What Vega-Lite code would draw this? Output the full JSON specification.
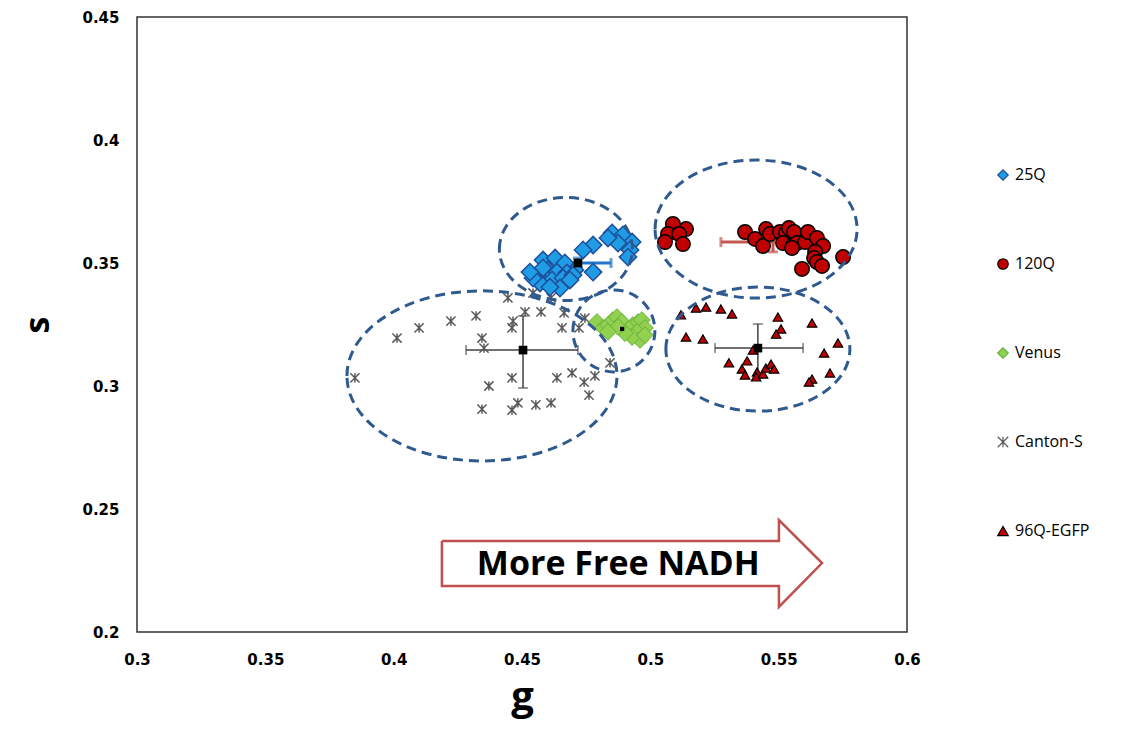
{
  "$schema": "https://vega.github.io/schema/vega-lite/v6.json",
  "width": 770,
  "height": 615,
  "autosize": {"type": "none"},
  "padding": {"left": 137, "top": 17, "right": 224, "bottom": 100},
  "background": "white",
  "view": {"stroke": "#333333", "strokeWidth": 1.5},
  "config": {
    "font": "DejaVu Sans",
    "axis": {"grid": false, "ticks": false, "domain": false, "labelColor": "#000000", "titleColor": "#000000", "labelFont": "DejaVu Sans", "labelFontWeight": "bold", "labelFontSize": 15, "titleFont": "Open Sans", "titleFontWeight": "bold"},
    "axisX": {"labelPadding": 20, "titleFontSize": 40, "titlePadding": 10, "labelFlush": false},
    "axisY": {"labelPadding": 18, "titleFontSize": 34, "titlePadding": 26, "labelFlush": false},
    "legend": {"orient": "none", "legendX": 858, "legendY": 150, "padding": 0, "rowPadding": 73, "symbolSize": 110, "symbolStrokeWidth": 1.2, "labelFont": "Open Sans", "labelFontSize": 16, "labelColor": "#000000", "labelOffset": 4}
  },
  "datasets": {
    "points": [
      {"series": "25Q", "g": 0.4851, "s": 0.3622},
      {"series": "25Q", "g": 0.4893, "s": 0.3614},
      {"series": "25Q", "g": 0.4929, "s": 0.3585},
      {"series": "25Q", "g": 0.4874, "s": 0.3581},
      {"series": "25Q", "g": 0.4921, "s": 0.3553},
      {"series": "25Q", "g": 0.4913, "s": 0.3524},
      {"series": "25Q", "g": 0.4835, "s": 0.3602},
      {"series": "25Q", "g": 0.4777, "s": 0.3573},
      {"series": "25Q", "g": 0.4738, "s": 0.3553},
      {"series": "25Q", "g": 0.4777, "s": 0.3463},
      {"series": "25Q", "g": 0.4706, "s": 0.3472},
      {"series": "25Q", "g": 0.4582, "s": 0.3512},
      {"series": "25Q", "g": 0.4629, "s": 0.352},
      {"series": "25Q", "g": 0.4667, "s": 0.35},
      {"series": "25Q", "g": 0.4601, "s": 0.3472},
      {"series": "25Q", "g": 0.4558, "s": 0.3443},
      {"series": "25Q", "g": 0.4582, "s": 0.348},
      {"series": "25Q", "g": 0.4636, "s": 0.3463},
      {"series": "25Q", "g": 0.4675, "s": 0.3459},
      {"series": "25Q", "g": 0.4617, "s": 0.3431},
      {"series": "25Q", "g": 0.466, "s": 0.3439},
      {"series": "25Q", "g": 0.4699, "s": 0.3451},
      {"series": "25Q", "g": 0.4648, "s": 0.3398},
      {"series": "25Q", "g": 0.4687, "s": 0.3431},
      {"series": "25Q", "g": 0.457, "s": 0.3419},
      {"series": "25Q", "g": 0.4609, "s": 0.3402},
      {"series": "25Q", "g": 0.4543, "s": 0.3439},
      {"series": "25Q", "g": 0.4531, "s": 0.3463},
      {"series": "120Q", "g": 0.5088, "s": 0.3659},
      {"series": "120Q", "g": 0.5139, "s": 0.3638},
      {"series": "120Q", "g": 0.5069, "s": 0.3618},
      {"series": "120Q", "g": 0.5112, "s": 0.3618},
      {"series": "120Q", "g": 0.5057, "s": 0.3585},
      {"series": "120Q", "g": 0.5127, "s": 0.3577},
      {"series": "120Q", "g": 0.5369, "s": 0.3626},
      {"series": "120Q", "g": 0.5408, "s": 0.3598},
      {"series": "120Q", "g": 0.5439, "s": 0.3569},
      {"series": "120Q", "g": 0.5451, "s": 0.3638},
      {"series": "120Q", "g": 0.5466, "s": 0.3618},
      {"series": "120Q", "g": 0.5505, "s": 0.3626},
      {"series": "120Q", "g": 0.5529, "s": 0.3622},
      {"series": "120Q", "g": 0.554, "s": 0.3642},
      {"series": "120Q", "g": 0.556, "s": 0.3626},
      {"series": "120Q", "g": 0.5517, "s": 0.3581},
      {"series": "120Q", "g": 0.5556, "s": 0.3573},
      {"series": "120Q", "g": 0.5571, "s": 0.3581},
      {"series": "120Q", "g": 0.5603, "s": 0.3585},
      {"series": "120Q", "g": 0.5614, "s": 0.3626},
      {"series": "120Q", "g": 0.5649, "s": 0.3602},
      {"series": "120Q", "g": 0.5673, "s": 0.3569},
      {"series": "120Q", "g": 0.5642, "s": 0.3545},
      {"series": "120Q", "g": 0.5638, "s": 0.352},
      {"series": "120Q", "g": 0.5649, "s": 0.3504},
      {"series": "120Q", "g": 0.5669, "s": 0.3488},
      {"series": "120Q", "g": 0.5591, "s": 0.3476},
      {"series": "120Q", "g": 0.5751, "s": 0.3524},
      {"series": "120Q", "g": 0.5552, "s": 0.3561},
      {"series": "Venus", "g": 0.4792, "s": 0.326},
      {"series": "Venus", "g": 0.4816, "s": 0.3236},
      {"series": "Venus", "g": 0.4835, "s": 0.3248},
      {"series": "Venus", "g": 0.4854, "s": 0.3268},
      {"series": "Venus", "g": 0.487, "s": 0.328},
      {"series": "Venus", "g": 0.489, "s": 0.326},
      {"series": "Venus", "g": 0.4913, "s": 0.3228},
      {"series": "Venus", "g": 0.4932, "s": 0.3248},
      {"series": "Venus", "g": 0.4952, "s": 0.326},
      {"series": "Venus", "g": 0.4967, "s": 0.3268},
      {"series": "Venus", "g": 0.4979, "s": 0.3236},
      {"series": "Venus", "g": 0.4948, "s": 0.322},
      {"series": "Venus", "g": 0.496, "s": 0.3187},
      {"series": "Venus", "g": 0.4929, "s": 0.3199},
      {"series": "Venus", "g": 0.4901, "s": 0.3215},
      {"series": "Venus", "g": 0.4874, "s": 0.324},
      {"series": "Venus", "g": 0.4835, "s": 0.322},
      {"series": "Venus", "g": 0.4979, "s": 0.3207},
      {"series": "Canton-S", "g": 0.3849, "s": 0.3033},
      {"series": "Canton-S", "g": 0.4013, "s": 0.3195},
      {"series": "Canton-S", "g": 0.4099, "s": 0.3236},
      {"series": "Canton-S", "g": 0.4223, "s": 0.3264},
      {"series": "Canton-S", "g": 0.4321, "s": 0.3285},
      {"series": "Canton-S", "g": 0.4344, "s": 0.3195},
      {"series": "Canton-S", "g": 0.4352, "s": 0.3154},
      {"series": "Canton-S", "g": 0.4465, "s": 0.3264},
      {"series": "Canton-S", "g": 0.4461, "s": 0.3236},
      {"series": "Canton-S", "g": 0.4445, "s": 0.3358},
      {"series": "Canton-S", "g": 0.4543, "s": 0.3378},
      {"series": "Canton-S", "g": 0.4613, "s": 0.3358},
      {"series": "Canton-S", "g": 0.4512, "s": 0.3301},
      {"series": "Canton-S", "g": 0.4574, "s": 0.3301},
      {"series": "Canton-S", "g": 0.4656, "s": 0.3236},
      {"series": "Canton-S", "g": 0.4664, "s": 0.3297},
      {"series": "Canton-S", "g": 0.4722, "s": 0.3236},
      {"series": "Canton-S", "g": 0.4745, "s": 0.3276},
      {"series": "Canton-S", "g": 0.4843, "s": 0.3094},
      {"series": "Canton-S", "g": 0.4784, "s": 0.3041},
      {"series": "Canton-S", "g": 0.4742, "s": 0.3016},
      {"series": "Canton-S", "g": 0.4695, "s": 0.3053},
      {"series": "Canton-S", "g": 0.4636, "s": 0.3033},
      {"series": "Canton-S", "g": 0.4761, "s": 0.2963},
      {"series": "Canton-S", "g": 0.4461, "s": 0.3033},
      {"series": "Canton-S", "g": 0.4371, "s": 0.3},
      {"series": "Canton-S", "g": 0.4613, "s": 0.2931},
      {"series": "Canton-S", "g": 0.4554, "s": 0.2923},
      {"series": "Canton-S", "g": 0.4484, "s": 0.2931},
      {"series": "Canton-S", "g": 0.4461, "s": 0.2902},
      {"series": "Canton-S", "g": 0.4344, "s": 0.2906},
      {"series": "96Q-EGFP", "g": 0.5119, "s": 0.3289},
      {"series": "96Q-EGFP", "g": 0.5178, "s": 0.3317},
      {"series": "96Q-EGFP", "g": 0.5217, "s": 0.3321},
      {"series": "96Q-EGFP", "g": 0.5275, "s": 0.3313},
      {"series": "96Q-EGFP", "g": 0.5318, "s": 0.3293},
      {"series": "96Q-EGFP", "g": 0.5139, "s": 0.3199},
      {"series": "96Q-EGFP", "g": 0.5205, "s": 0.3191},
      {"series": "96Q-EGFP", "g": 0.5497, "s": 0.328},
      {"series": "96Q-EGFP", "g": 0.5509, "s": 0.3232},
      {"series": "96Q-EGFP", "g": 0.549, "s": 0.3211},
      {"series": "96Q-EGFP", "g": 0.563, "s": 0.3256},
      {"series": "96Q-EGFP", "g": 0.5731, "s": 0.3175},
      {"series": "96Q-EGFP", "g": 0.5677, "s": 0.3134},
      {"series": "96Q-EGFP", "g": 0.54, "s": 0.3146},
      {"series": "96Q-EGFP", "g": 0.5377, "s": 0.3102},
      {"series": "96Q-EGFP", "g": 0.5306, "s": 0.3094},
      {"series": "96Q-EGFP", "g": 0.5357, "s": 0.3069},
      {"series": "96Q-EGFP", "g": 0.5369, "s": 0.3045},
      {"series": "96Q-EGFP", "g": 0.5416, "s": 0.3057},
      {"series": "96Q-EGFP", "g": 0.5412, "s": 0.3037},
      {"series": "96Q-EGFP", "g": 0.5439, "s": 0.3049},
      {"series": "96Q-EGFP", "g": 0.545, "s": 0.3073},
      {"series": "96Q-EGFP", "g": 0.547, "s": 0.3089},
      {"series": "96Q-EGFP", "g": 0.5482, "s": 0.3069},
      {"series": "96Q-EGFP", "g": 0.57, "s": 0.3053},
      {"series": "96Q-EGFP", "g": 0.563, "s": 0.3028},
      {"series": "96Q-EGFP", "g": 0.5618, "s": 0.3016}
    ],
    "errors": [
      {"series": "25Q", "g": 0.4718, "s": 0.35, "gLo": 0.459, "gHi": 0.4847, "sLo": 0.348, "sHi": 0.352},
      {"series": "120Q", "g": 0.5478, "s": 0.3585, "gLo": 0.5275, "gHi": 0.568, "sLo": 0.3545, "sHi": 0.3615},
      {"series": "Canton-S", "g": 0.4504, "s": 0.3146, "gLo": 0.4282, "gHi": 0.4718, "sLo": 0.2992, "sHi": 0.3285},
      {"series": "96Q-EGFP", "g": 0.5419, "s": 0.3154, "gLo": 0.5252, "gHi": 0.5595, "sLo": 0.3032, "sHi": 0.3252}
    ],
    "means": [
      {"series": "25Q", "g": 0.4718, "s": 0.35},
      {"series": "Venus", "g": 0.489, "s": 0.3232},
      {"series": "Canton-S", "g": 0.4504, "s": 0.3146},
      {"series": "96Q-EGFP", "g": 0.5419, "s": 0.3154}
    ],
    "ellipses": [
      {"name": "25Q", "g": 0.4671, "s": 0.3557},
      {"name": "120Q", "g": 0.5412, "s": 0.3638},
      {"name": "Venus", "g": 0.4858, "s": 0.3224},
      {"name": "Canton-S", "g": 0.4344, "s": 0.3041},
      {"name": "96Q-EGFP", "g": 0.5419, "s": 0.315}
    ],
    "arrow": [
      {"i": 1, "g": 0.4188, "s": 0.237},
      {"i": 2, "g": 0.5501, "s": 0.237},
      {"i": 3, "g": 0.5501, "s": 0.2455},
      {"i": 4, "g": 0.5669, "s": 0.228},
      {"i": 5, "g": 0.5501, "s": 0.2102},
      {"i": 6, "g": 0.5501, "s": 0.2187},
      {"i": 7, "g": 0.4188, "s": 0.2187},
      {"i": 8, "g": 0.4188, "s": 0.237}
    ],
    "notes": [
      {"label": "More Free NADH", "g": 0.4875, "s": 0.2272}
    ]
  },
  "layer": [
    {
      "data": {"name": "errors"},
      "transform": [{"filter": {"field": "series", "oneOf": ["25Q", "120Q"]}}],
      "mark": {"type": "errorbar", "ticks": {"size": 10, "thickness": 3}, "rule": {"strokeWidth": 3}},
      "encoding": {
        "x": {"field": "gLo", "type": "quantitative", "title": "g", "scale": {"domain": [0.3, 0.6], "nice": false, "zero": false}, "axis": {"values": [0.3, 0.35, 0.4, 0.45, 0.5, 0.55, 0.6], "format": "~g", "title": "g"}},
        "x2": {"field": "gHi"},
        "y": {"field": "s", "type": "quantitative", "title": "s", "scale": {"domain": [0.2, 0.45], "nice": false, "zero": false}, "axis": {"values": [0.2, 0.25, 0.3, 0.35, 0.4, 0.45], "format": "~g", "title": "s"}},
        "color": {"field": "series", "type": "nominal", "legend": null, "scale": {"domain": ["25Q", "120Q", "Canton-S", "96Q-EGFP"], "range": ["#2077c9", "#c45850", "#404040", "#404040"]}}
      }
    },
    {
      "data": {"name": "errors"},
      "transform": [{"filter": {"field": "series", "oneOf": ["25Q", "120Q"]}}],
      "mark": {"type": "errorbar", "ticks": {"size": 10, "thickness": 3}, "rule": {"strokeWidth": 3}},
      "encoding": {
        "y": {"field": "sLo", "type": "quantitative", "title": "s"},
        "y2": {"field": "sHi"},
        "x": {"field": "g", "type": "quantitative", "title": "g"},
        "color": {"field": "series", "type": "nominal", "legend": null}
      }
    },
    {
      "data": {"name": "errors"},
      "transform": [{"filter": {"field": "series", "oneOf": ["Canton-S", "96Q-EGFP"]}}],
      "mark": {"type": "errorbar", "ticks": {"size": 10, "thickness": 1.5}, "rule": {"strokeWidth": 1.5}},
      "encoding": {
        "x": {"field": "gLo", "type": "quantitative", "title": "g"},
        "x2": {"field": "gHi"},
        "y": {"field": "s", "type": "quantitative", "title": "s"},
        "color": {"field": "series", "type": "nominal", "legend": null}
      }
    },
    {
      "data": {"name": "errors"},
      "transform": [{"filter": {"field": "series", "oneOf": ["Canton-S", "96Q-EGFP"]}}],
      "mark": {"type": "errorbar", "ticks": {"size": 10, "thickness": 1.5}, "rule": {"strokeWidth": 1.5}},
      "encoding": {
        "y": {"field": "sLo", "type": "quantitative", "title": "s"},
        "y2": {"field": "sHi"},
        "x": {"field": "g", "type": "quantitative", "title": "g"},
        "color": {"field": "series", "type": "nominal", "legend": null}
      }
    },
    {
      "data": {"name": "points"},
      "transform": [{"filter": "datum.series == 'Canton-S'"}],
      "mark": {"type": "point", "filled": true, "opacity": 1, "size": 85, "strokeWidth": 1.5},
      "encoding": {
        "x": {"field": "g", "type": "quantitative", "title": "g"},
        "y": {"field": "s", "type": "quantitative", "title": "s"},
        "shape": {"field": "series", "type": "nominal", "title": null, "scale": {"domain": ["25Q", "120Q", "Venus", "Canton-S", "96Q-EGFP"], "range": ["diamond", "circle", "diamond", "M -1 -1 L 1 1 M -1 1 L 1 -1 M 0 -1 L 0 1", "triangle-up"]}},
        "fill": {"field": "series", "type": "nominal", "title": null, "scale": {"domain": ["25Q", "120Q", "Venus", "Canton-S", "96Q-EGFP"], "range": ["#1f9ce6", "#c00000", "#92d050", "#595959", "#c00000"]}},
        "stroke": {"field": "series", "type": "nominal", "title": null, "scale": {"domain": ["25Q", "120Q", "Venus", "Canton-S", "96Q-EGFP"], "range": ["#1f4f99", "#000000", "#64b03a", "#595959", "#000000"]}}
      }
    },
    {
      "data": {"name": "points"},
      "transform": [{"filter": "datum.series == '96Q-EGFP'"}],
      "mark": {"type": "point", "filled": true, "opacity": 1, "size": 90, "strokeWidth": 1.2},
      "encoding": {
        "x": {"field": "g", "type": "quantitative", "title": "g"},
        "y": {"field": "s", "type": "quantitative", "title": "s"},
        "shape": {"field": "series", "type": "nominal", "title": null},
        "fill": {"field": "series", "type": "nominal", "title": null},
        "stroke": {"field": "series", "type": "nominal", "title": null}
      }
    },
    {
      "data": {"name": "points"},
      "transform": [{"filter": "datum.series == 'Venus'"}],
      "mark": {"type": "point", "filled": true, "opacity": 1, "size": 280, "strokeWidth": 1},
      "encoding": {
        "x": {"field": "g", "type": "quantitative", "title": "g"},
        "y": {"field": "s", "type": "quantitative", "title": "s"},
        "shape": {"field": "series", "type": "nominal", "title": null},
        "fill": {"field": "series", "type": "nominal", "title": null},
        "stroke": {"field": "series", "type": "nominal", "title": null}
      }
    },
    {
      "data": {"name": "points"},
      "transform": [{"filter": "datum.series == '120Q'"}],
      "mark": {"type": "point", "filled": true, "opacity": 1, "size": 210, "strokeWidth": 1.5},
      "encoding": {
        "x": {"field": "g", "type": "quantitative", "title": "g"},
        "y": {"field": "s", "type": "quantitative", "title": "s"},
        "shape": {"field": "series", "type": "nominal", "title": null},
        "fill": {"field": "series", "type": "nominal", "title": null},
        "stroke": {"field": "series", "type": "nominal", "title": null}
      }
    },
    {
      "data": {"name": "points"},
      "transform": [{"filter": "datum.series == '25Q'"}],
      "mark": {"type": "point", "filled": true, "opacity": 1, "size": 300, "strokeWidth": 1.5},
      "encoding": {
        "x": {"field": "g", "type": "quantitative", "title": "g"},
        "y": {"field": "s", "type": "quantitative", "title": "s"},
        "shape": {"field": "series", "type": "nominal", "title": null},
        "fill": {"field": "series", "type": "nominal", "title": null},
        "stroke": {"field": "series", "type": "nominal", "title": null}
      }
    },
    {
      "data": {"name": "means"},
      "transform": [{"filter": "datum.series != 'Venus'"}],
      "mark": {"type": "point", "shape": "square", "filled": true, "fill": "#000000", "size": 75, "opacity": 1},
      "encoding": {
        "x": {"field": "g", "type": "quantitative", "title": "g"},
        "y": {"field": "s", "type": "quantitative", "title": "s"}
      }
    },
    {
      "data": {"name": "means"},
      "transform": [{"filter": "datum.series == 'Venus'"}],
      "mark": {"type": "point", "shape": "square", "filled": true, "fill": "#000000", "size": 18, "opacity": 1},
      "encoding": {
        "x": {"field": "g", "type": "quantitative", "title": "g"},
        "y": {"field": "s", "type": "quantitative", "title": "s"}
      }
    },
    {
      "data": {"name": "ellipses"},
      "transform": [{"filter": "datum.name == '25Q'"}],
      "mark": {"type": "point", "shape": "M -1 0 A 1 0.774 0 1 1 1 0 A 1 0.774 0 1 1 -1 0 Z", "size": 17689, "filled": false, "stroke": "#2f5a8f", "strokeWidth": 3, "strokeDash": [10, 6], "opacity": 1},
      "encoding": {"x": {"field": "g", "type": "quantitative", "title": "g"}, "y": {"field": "s", "type": "quantitative", "title": "s"}}
    },
    {
      "data": {"name": "ellipses"},
      "transform": [{"filter": "datum.name == '120Q'"}],
      "mark": {"type": "point", "shape": "M -1 0 A 1 0.683 0 1 1 1 0 A 1 0.683 0 1 1 -1 0 Z", "size": 40804, "filled": false, "stroke": "#2f5a8f", "strokeWidth": 3, "strokeDash": [10, 6], "opacity": 1},
      "encoding": {"x": {"field": "g", "type": "quantitative", "title": "g"}, "y": {"field": "s", "type": "quantitative", "title": "s"}}
    },
    {
      "data": {"name": "ellipses"},
      "transform": [{"filter": "datum.name == 'Venus'"}],
      "mark": {"type": "point", "shape": "M -1 0 A 1 1 0 1 1 1 0 A 1 1 0 1 1 -1 0 Z", "size": 6724, "filled": false, "stroke": "#2f5a8f", "strokeWidth": 3, "strokeDash": [10, 6], "opacity": 1},
      "encoding": {"x": {"field": "g", "type": "quantitative", "title": "g"}, "y": {"field": "s", "type": "quantitative", "title": "s"}}
    },
    {
      "data": {"name": "ellipses"},
      "transform": [{"filter": "datum.name == 'Canton-S'"}],
      "mark": {"type": "point", "shape": "M -1 0 A 1 0.63 0 1 1 1 0 A 1 0.63 0 1 1 -1 0 Z", "size": 72900, "filled": false, "stroke": "#2f5a8f", "strokeWidth": 3, "strokeDash": [10, 6], "opacity": 1},
      "encoding": {"x": {"field": "g", "type": "quantitative", "title": "g"}, "y": {"field": "s", "type": "quantitative", "title": "s"}}
    },
    {
      "data": {"name": "ellipses"},
      "transform": [{"filter": "datum.name == '96Q-EGFP'"}],
      "mark": {"type": "point", "shape": "M -1 0 A 1 0.674 0 1 1 1 0 A 1 0.674 0 1 1 -1 0 Z", "size": 33856, "filled": false, "stroke": "#2f5a8f", "strokeWidth": 3, "strokeDash": [10, 6], "opacity": 1},
      "encoding": {"x": {"field": "g", "type": "quantitative", "title": "g"}, "y": {"field": "s", "type": "quantitative", "title": "s"}}
    },
    {
      "data": {"name": "arrow"},
      "mark": {"type": "line", "stroke": "#c0504d", "strokeWidth": 2.5, "strokeJoin": "miter"},
      "encoding": {
        "x": {"field": "g", "type": "quantitative", "title": "g"},
        "y": {"field": "s", "type": "quantitative", "title": "s"},
        "order": {"field": "i", "type": "quantitative"}
      }
    },
    {
      "data": {"name": "notes"},
      "mark": {"type": "text", "font": "Open Sans", "fontWeight": "bold", "fontSize": 34, "align": "center", "baseline": "middle", "color": "#000000"},
      "encoding": {
        "x": {"field": "g", "type": "quantitative", "title": "g"},
        "y": {"field": "s", "type": "quantitative", "title": "s"},
        "text": {"field": "label"}
      }
    }
  ]
}
